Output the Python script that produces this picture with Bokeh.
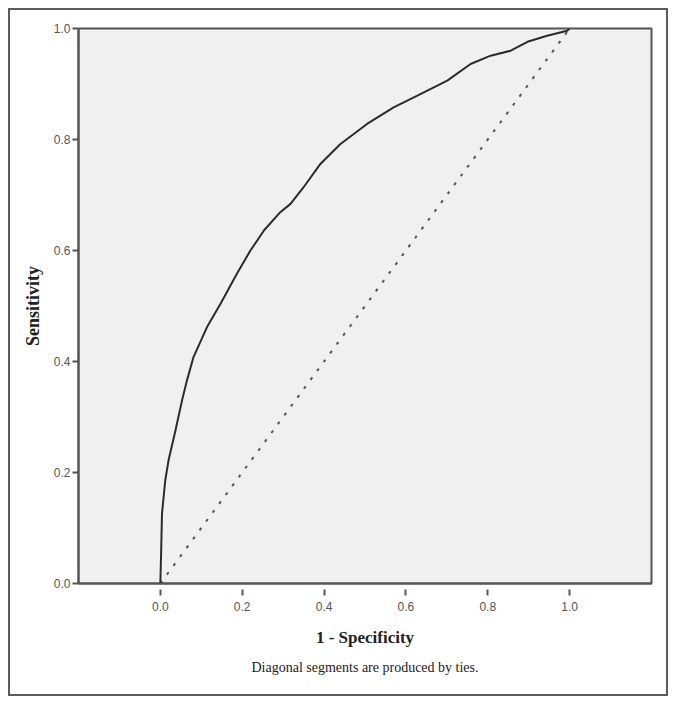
from bokeh.plotting import figure
from bokeh.models import FixedTicker, PrintfTickFormatter, Title, Range1d
from bokeh.embed import file_html
from bokeh.resources import INLINE

# ROC curve
fpr = [0.0, 0.002, 0.004, 0.012, 0.02, 0.037, 0.053, 0.065, 0.081, 0.114, 0.147,
       0.187, 0.22, 0.253, 0.293, 0.318, 0.35, 0.391, 0.44, 0.505, 0.57, 0.628,
       0.701, 0.758, 0.807, 0.856, 0.897, 0.945, 0.994, 1.0]
tpr = [0.0, 0.06, 0.126, 0.186, 0.222, 0.276, 0.33, 0.366, 0.408, 0.462, 0.504,
       0.558, 0.6, 0.636, 0.669, 0.684, 0.714, 0.756, 0.792, 0.828, 0.858, 0.879,
       0.906, 0.936, 0.951, 0.96, 0.976, 0.987, 0.996, 1.0]
ref_x = [0.0, 1.0]
ref_y = [0.0, 1.0]
x_ticks = [0.0, 0.2, 0.4, 0.6, 0.8, 1.0]
y_ticks = [0.0, 0.2, 0.4, 0.6, 0.8, 1.0]

p = figure(width=660, height=688, output_backend="svg", toolbar_location=None,
           x_range=Range1d(-0.2, 1.2), y_range=Range1d(0.0, 1.0),
           min_border_left=68, min_border_top=18, min_border_right=19,
           min_border_bottom=115)
p.styles = {"border": "2px solid #5c5c5c", "margin-left": "8px", "margin-top": "8px"}

p.background_fill_color = "#f0f0f0"
p.border_fill_color = "white"
p.outline_line_color = "#555555"
p.outline_line_width = 2
p.grid.visible = False

p.line(ref_x, ref_y, line_color="#555555", line_width=2, line_dash="3 8")
p.line(fpr, tpr, line_color="#2b2b2b", line_width=2)

tick_font = "Liberation Sans"
for ax in (p.xaxis[0], p.yaxis[0]):
    ax.axis_line_color = "#555555"
    ax.axis_line_width = 2
    ax.major_tick_line_color = "#555555"
    ax.major_tick_line_width = 2
    ax.minor_tick_line_color = None
    ax.major_label_text_font = tick_font
    ax.major_label_text_font_size = "12px"
    ax.major_label_text_color = "#555555"
    ax.axis_label_text_font = "Liberation Serif"
    ax.axis_label_text_font_style = "bold"
    ax.axis_label_text_color = "#222222"
    ax.formatter = PrintfTickFormatter(format="%.1f")

p.xaxis[0].ticker = FixedTicker(ticks=x_ticks)
p.yaxis[0].ticker = FixedTicker(ticks=y_ticks)

p.xaxis[0].major_tick_in = -6
p.xaxis[0].major_tick_out = 12
p.xaxis[0].major_label_standoff = 6
p.xaxis[0].axis_label = "1 - Specificity"
p.xaxis[0].axis_label_text_font_size = "17px"
p.xaxis[0].axis_label_standoff = 14

p.yaxis[0].major_tick_in = 0
p.yaxis[0].major_tick_out = 6
p.yaxis[0].major_label_standoff = 2
p.yaxis[0].axis_label = "Sensitivity"
p.yaxis[0].axis_label_text_font_size = "18px"
p.yaxis[0].axis_label_standoff = 8

p.add_layout(Title(text="Diagonal segments are produced by ties.", align="center",
                   text_font="Liberation Serif", text_font_size="14px",
                   text_font_style="normal", text_color="#222222", standoff=16),
             "below")

open("out.html", "w").write(file_html(p, INLINE))
